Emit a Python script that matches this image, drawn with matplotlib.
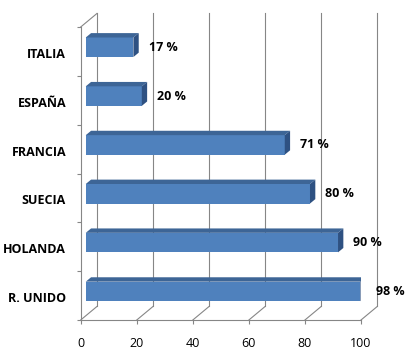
import matplotlib
matplotlib.use("Agg")
import matplotlib.pyplot as plt
from matplotlib.patches import Polygon

# data (top to bottom as in the chart)
COUNTRIES = ["ITALIA", "ESPAÑA", "FRANCIA", "SUECIA", "HOLANDA", "R. UNIDO"]
VALUES = [17, 20, 71, 80, 90, 98]
X_TICKS = [0, 20, 40, 60, 80, 100]

# 3D look (in data units)
DEPTH_X, DEPTH_Y = 5.8, 0.277      # back wall offset
FACE_X, FACE_Y = 1.8, 0.085        # bar front face offset from the front plane
BAR_DX, BAR_DY = 1.9, 0.09         # bar depth
BAR_H = 0.40

FRONT = "#4F81BD"
TOP = "#3D6596"
SIDE = "#2E5182"
GRID = "#868686"
FS = 9

plt.rcParams["font.family"] = ["Open Sans", "DejaVu Sans"]

fig = plt.figure(figsize=(4.1, 3.6), dpi=100)
ax = fig.add_axes([80.7 / 410, 40 / 360, 280.3 / 410, 293 / 360])
ax.set_xlim(0, 100)
ax.set_ylim(0, len(COUNTRIES))

# back wall gridlines and floor diagonals
top = len(COUNTRIES)
for v in X_TICKS:
    ax.plot([v + DEPTH_X, v + DEPTH_X], [DEPTH_Y, top + DEPTH_Y],
            color=GRID, lw=0.8, clip_on=False, zorder=1)
    ax.plot([v, v + DEPTH_X], [0, DEPTH_Y], color=GRID, lw=0.8,
            clip_on=False, zorder=1)
ax.plot([0, DEPTH_X], [top, top + DEPTH_Y], color=GRID, lw=0.8,
        clip_on=False, zorder=1)

# bars
n = len(COUNTRIES)
for i, (name, val) in enumerate(zip(COUNTRIES, VALUES)):
    yc = n - 1 - i + 0.5 + FACE_Y
    y0, y1 = yc - BAR_H / 2, yc + BAR_H / 2
    x0, x1 = FACE_X, FACE_X + val
    ax.barh(yc, val, height=BAR_H, left=x0, color=FRONT, zorder=3)
    ax.add_patch(Polygon([(x0, y1), (x1, y1), (x1 + BAR_DX, y1 + BAR_DY),
                          (x0 + BAR_DX, y1 + BAR_DY)], closed=True,
                         facecolor=TOP, edgecolor="none", zorder=3))
    ax.add_patch(Polygon([(x1, y0), (x1 + BAR_DX, y0 + BAR_DY),
                          (x1 + BAR_DX, y1 + BAR_DY), (x1, y1)], closed=True,
                         facecolor=SIDE, edgecolor="none", zorder=3))
    ax.text(val + 7.2, yc, f"{val} %", ha="left", va="center",
            fontsize=FS, fontweight="bold", color="black", zorder=4)

# axes styling
for s in ("top", "right"):
    ax.spines[s].set_visible(False)
for s in ("left", "bottom"):
    ax.spines[s].set_color(GRID)
    ax.spines[s].set_linewidth(0.8)

ax.set_xticks(X_TICKS)
ax.set_xticklabels([str(t) for t in X_TICKS])
ax.tick_params(axis="x", direction="out", length=3, color=GRID, width=0.8,
               labelsize=FS, pad=9.5)

ax.set_yticks(range(n + 1))
ax.set_yticklabels([])
ax.set_yticks([n - 1 - i + 0.47 for i in range(n)], minor=True)
ax.set_yticklabels(COUNTRIES, minor=True, fontweight="bold", fontsize=FS)
ax.tick_params(axis="y", which="major", direction="out", length=3,
               color=GRID, width=0.8)
ax.tick_params(axis="y", which="minor", length=0, pad=10.5)

fig.savefig("out.png", dpi=100)
